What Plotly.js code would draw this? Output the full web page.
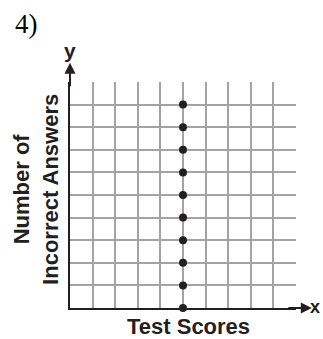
<!DOCTYPE html>
<html>
<head>
<meta charset="utf-8">
<script src="https://cdn.plot.ly/plotly-3.0.1.min.js"></script>
<style>
  html, body { margin: 0; padding: 0; background: #fff; }
  #chart { width: 323px; height: 339px; }
</style>
</head>
<body>
<div id="chart"></div>
<script>
// Plotted points: every test score is the same, incorrect answers vary
const testScores = [5, 5, 5, 5, 5, 5, 5, 5, 5, 5];
const incorrectAnswers = [0, 1, 2, 3, 4, 5, 6, 7, 8, 9];

const xLabel = 'Test Scores';
const yLabel = 'Number of<br>Incorrect Answers';
const problemLabel = '4)';

const ink = '#231f20';
const gridGray = '#a3a3a3';
const boldFont = { family: 'Liberation Sans, Arial, sans-serif', size: 22, color: ink, weight: 'bold' };

const trace = {
  x: testScores,
  y: incorrectAnswers,
  mode: 'markers',
  type: 'scatter',
  cliponaxis: false,
  marker: { color: ink, size: 8 },
  hoverinfo: 'skip'
};

const axisBase = {
  range: [0, 10],
  dtick: 1,
  tick0: 0,
  showgrid: true,
  gridcolor: gridGray,
  gridwidth: 2,
  zeroline: false,
  showline: true,
  linecolor: ink,
  linewidth: 2,
  ticks: '',
  showticklabels: false,
  fixedrange: true
};

const layout = {
  width: 323,
  height: 339,
  margin: { l: 70, r: 27, t: 82, b: 31 },
  paper_bgcolor: '#fff',
  plot_bgcolor: '#fff',
  showlegend: false,
  xaxis: Object.assign({}, axisBase),
  yaxis: Object.assign({}, axisBase),
  annotations: [
    // problem number
    { xref: 'paper', yref: 'paper', x: -0.252, y: 1.255, xanchor: 'left', yanchor: 'middle',
      text: problemLabel, showarrow: false,
      font: { family: 'Liberation Serif, Times New Roman, serif', size: 27, color: '#000' } },
    // axis letters
    { xref: 'paper', yref: 'paper', x: 0, y: 1.14, xanchor: 'center', yanchor: 'middle',
      text: 'y', showarrow: false, font: Object.assign({}, boldFont, { size: 21 }) },
    { xref: 'paper', yref: 'paper', x: 1.0, y: 0.005, xanchor: 'right', yanchor: 'middle',
      xshift: 26, text: 'x', showarrow: false, font: Object.assign({}, boldFont, { size: 18 }) },
    // axis titles
    { xref: 'paper', yref: 'paper', x: 0.5, y: -0.083, xanchor: 'center', yanchor: 'middle',
      xshift: 5, text: xLabel, showarrow: false, font: boldFont },
    { xref: 'paper', yref: 'paper', x: -0.148, y: 0.525, xanchor: 'center', yanchor: 'middle',
      text: yLabel, textangle: -90, showarrow: false, font: boldFont },
    // arrow heads on the axes
    { xref: 'paper', yref: 'paper', x: 0, y: 1.085, ax: 0, ay: 25, text: '',
      showarrow: true, arrowhead: 2, arrowsize: 1.1, arrowwidth: 2, arrowcolor: ink, standoff: 0 },
    { xref: 'paper', yref: 'paper', x: 1.07, y: 0, ax: -25, ay: 0, text: '',
      showarrow: true, arrowhead: 2, arrowsize: 1.1, arrowwidth: 2, arrowcolor: ink, standoff: 0 }
  ]
};

Plotly.newPlot('chart', [trace], layout, { displayModeBar: false, staticPlot: true });
</script>
</body>
</html>
